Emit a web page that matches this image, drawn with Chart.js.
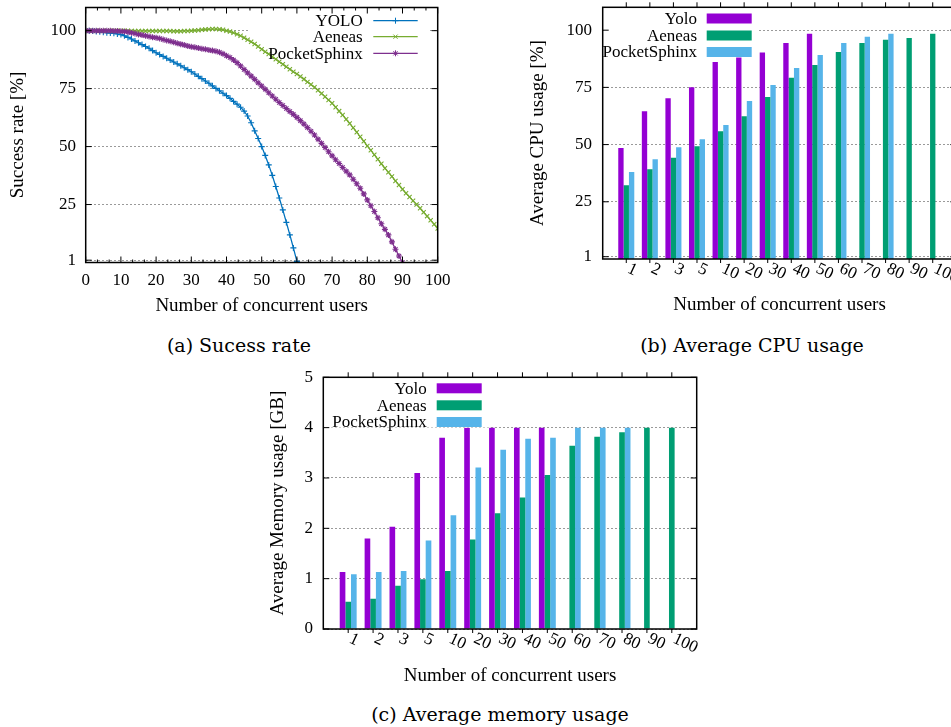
<!DOCTYPE html>
<html><head><meta charset="utf-8">
<script src="https://cdn.jsdelivr.net/npm/chart.js@4.4.1/dist/chart.umd.min.js"></script>
<style>
html,body{margin:0;padding:0;background:#fff;width:951px;height:727px;overflow:hidden;position:relative}
canvas{position:absolute}
.cap{position:absolute;font-family:"DejaVu Serif",serif;font-size:19px;line-height:24px;color:#000;white-space:nowrap;transform:translateX(-50%)}
</style></head><body>
<canvas id="ca" width="470" height="325" style="left:0;top:0"></canvas>
<canvas id="cb" width="480" height="325" style="left:480px;top:0"></canvas>
<canvas id="cc" width="480" height="330" style="left:240px;top:360px"></canvas>
<div class="cap" style="left:239px;top:333px">(a) Sucess rate</div>
<div class="cap" style="left:752px;top:333px">(b) Average CPU usage</div>
<div class="cap" style="left:500px;top:702px">(c) Average memory usage</div>
<script>
// ---------- data: (a) success rate, one value per number of concurrent users (0,1,2,...) ----------
const SUCCESS_YOLO = [100,100,99.9,99.7,99.5,99.3,99.1,99,98.9,98.6,98.3,97.8,97.1,96.4,95.6,94.8,94,93.2,92.4,91.4,
  90.5,89.7,88.9,88.1,87.3,86.5,85.7,84.9,84,83.2,82.3,81.3,80.3,79.3,78.3,77.3,76.2,75.1,74.1,73,
  72,70.8,69.5,68.3,67,65.3,63.2,60.3,56.8,53.5,50,46.2,42.1,37.6,32.8,27.8,22.7,17.3,11.9,6.3,0.5];
const SUCCESS_AENEAS = [100,100,100,100,100,100,100,100,100,100,100,100,100,99.9,99.9,99.9,99.9,99.9,99.9,99.9,
  99.9,99.9,99.9,99.9,99.9,99.8,99.8,99.8,99.9,99.9,100,100.1,100.2,100.4,100.5,100.6,100.7,100.7,100.6,100.4,
  100,99.6,99.1,98.5,97.8,97,96.1,95.2,94.3,93.2,92,90.9,89.9,88.8,87.7,86.6,85.5,84.4,83.4,82.3,
  81.3,80.2,79.1,77.9,76.8,75.6,74.3,72.9,71.5,70.1,68.7,67,65.3,63.6,61.8,60,58.1,56.2,54.2,52.3,
  50.3,48.4,46.5,44.5,42.6,40.7,38.9,37.1,35.2,33.4,31.6,29.9,28.3,26.6,25,23.4,21.7,20,18.2,16.5,14.7];
const SUCCESS_POCKET = [100,100,100,100,100,100,100,100,99.9,99.9,99.8,99.6,99.4,99.1,98.8,98.4,98.1,97.8,97.5,97.2,
  97,96.6,96.2,95.8,95.4,95,94.6,94.2,93.8,93.4,93.1,92.8,92.5,92.2,92,91.7,91.4,91.1,90.7,90,
  89.2,88.4,87.4,86.2,84.8,83.3,81.8,80.4,79,77.5,76.1,74.7,73.2,71.8,70.4,69,67.7,66.4,65.1,63.9,
  62.6,61.2,59.7,58.2,56.6,55,53.2,51.4,49.6,47.8,46,44.3,42.7,41,39.4,37.8,35.9,34,32,29.6,
  27,24.5,22,19.3,16.7,14.3,11.9,8.9,5.7,2.8,0];
const Y_TICKS_A = [1, 25, 50, 75, 100];

// ---------- data: (b) CPU usage and (c) memory usage ----------
const USER_LABELS = ['1','2','3','5','10','20','30','40','50','60','70','80','90','100'];
const CPU_YOLO   = [48.5,64.6,70.3,75.1,86.1,88.5,90.2,94.4,98.4,null,null,null,null,null];
const CPU_AENEAS = [32.2,39.2,44.3,49.3,55.8,62.4,70.8,79.2,84.8,90.5,94.4,95.8,96.6,98.4];
const CPU_POCKET = [38.0,43.6,48.8,52.3,58.6,69.0,76.0,83.5,89.2,94.4,97.1,98.4,null,null];
const Y_TICKS_B = [1, 25, 50, 75, 100];
const MEM_YOLO   = [1.13,1.80,2.03,3.10,3.80,4.0,4.0,4.0,4.0,null,null,null,null,null];
const MEM_AENEAS = [0.54,0.60,0.86,0.99,1.15,1.78,2.30,2.61,3.06,3.64,3.82,3.91,4.0,4.0];
const MEM_POCKET = [1.09,1.13,1.15,1.76,2.26,3.21,3.56,3.78,3.80,4.0,4.0,4.0,null,null];
const Y_TICKS_C = [0, 1, 2, 3, 4, 5];

const FONT = "'Liberation Serif', 'Times New Roman', serif";
Chart.defaults.font.family = FONT;
Chart.defaults.font.size = 17;
Chart.defaults.color = '#000';
const C_YOLO = '#9400d3', C_AEN = '#009e73', C_PS = '#56b4e9';

function drawLegend(chart, L, drawBox, drawContent) {
  const ctx = chart.ctx;
  ctx.save();
  if (drawBox) {
    ctx.fillStyle = '#fff';
    ctx.fillRect(L.box[0], L.box[1], L.box[2] - L.box[0], L.box[3] - L.box[1]);
  }
  if (drawContent) {
    ctx.font = '17px ' + FONT;
    ctx.textAlign = 'right';
    ctx.textBaseline = 'middle';
    chart.data.datasets.forEach((ds, i) => {
      const y = L.rows[i];
      ctx.fillStyle = '#000';
      ctx.fillText(ds.label, L.textRight, y + 1);
      if (L.kind === 'bar') {
        ctx.fillStyle = ds.backgroundColor;
        ctx.fillRect(L.sample[0], y - 5, L.sample[1] - L.sample[0], 10);
      } else {
        ctx.strokeStyle = ds.borderColor;
        ctx.fillStyle = ds.borderColor;
        ctx.lineWidth = 1.2;
        ctx.beginPath(); ctx.moveTo(L.sample[0], y); ctx.lineTo(L.sample[1], y); ctx.stroke();
        ctx.lineWidth = 1;
        Chart.helpers.drawPoint(ctx, {pointStyle: ds.pointStyle, radius: 3, borderWidth: 1, rotation: 0},
          (L.sample[0] + L.sample[1]) / 2, y);
      }
    });
  }
  ctx.restore();
}

const framePlugin = {
  id: 'frame',
  beforeDatasetsDraw(chart, args, o) {
    if (o.legend && o.legend.under) drawLegend(chart, o.legend, true, false);
  },
  afterDatasetsDraw(chart, args, o) {
    if (!o.legend) return;
    if (o.legend.under) drawLegend(chart, o.legend, false, true);
    else drawLegend(chart, o.legend, true, true);
  },
  afterDraw(chart, args, o) {
    const {ctx, chartArea: a, scales} = chart;
    const line = (x1, y1, x2, y2) => { ctx.beginPath(); ctx.moveTo(x1, y1); ctx.lineTo(x2, y2); ctx.stroke(); };
    ctx.save();
    ctx.strokeStyle = '#000';
    ctx.lineWidth = 1;
    scales.y.ticks.forEach(t => {
      const py = scales.y.getPixelForValue(t.value);
      line(a.left, py, a.left + 6, py);
      line(a.right, py, a.right - 6, py);
    });
    if (o.xMode === 'inner') {
      const tk = scales.x.ticks.map(t => t.value);
      for (let i = 0; i < tk.length; i++) {
        const px = scales.x.getPixelForValue(tk[i]);
        line(px, a.bottom, px, a.bottom - 6);
        line(px, a.top, px, a.top + 6);
        if (i < tk.length - 1) {
          for (let k = 1; k < o.minor; k++) {
            const p = scales.x.getPixelForValue(tk[i] + (tk[i + 1] - tk[i]) * k / o.minor);
            line(p, a.bottom, p, a.bottom - 3);
            line(p, a.top, p, a.top + 3);
          }
        }
      }
    } else {
      o.catLabels.forEach((lab, i) => {
        const px = scales.x.getPixelForValue(i + 1);
        line(px, a.top, px, a.top - 5);
        line(px, a.bottom, px, a.bottom + 4);
        ctx.save();
        ctx.translate(px + 2, a.bottom + 9);
        ctx.rotate(25 * Math.PI / 180);
        ctx.font = '17px ' + FONT;
        ctx.fillStyle = '#000';
        ctx.textAlign = 'left';
        ctx.textBaseline = 'middle';
        ctx.fillText(lab, 0, 0);
        ctx.restore();
      });
    }
    ctx.lineWidth = 1.5;
    ctx.strokeRect(a.left, a.top, a.right - a.left, a.bottom - a.top);
    ctx.restore();
  }
};

function noPad(s) { s.paddingTop = 0; s.paddingBottom = 0; s.paddingLeft = 0; s.paddingRight = 0; }
const tickFont = () => ({family: FONT, size: 17});
const titleFont = () => ({family: FONT, size: 19});

function yScale(min, max, ticks, title, width, titlePad, labelPad) {
  return {
    type: 'linear', min, max,
    afterBuildTicks: s => { s.ticks = ticks.map(v => ({value: v})); },
    ticks: {padding: labelPad, font: tickFont(), color: '#000'},
    grid: {color: '#9a9a9a', lineWidth: 1, drawTicks: false},
    border: {display: false, dash: [2, 2]},
    title: {display: true, text: title, font: titleFont(), color: '#000', padding: {top: titlePad, bottom: 0}},
    afterFit: s => { s.width = width; noPad(s); }
  };
}

// ---------- (a) ----------
const lineSet = (label, vals, color, style, order) => ({
  label, data: vals.map((v, i) => ({x: i, y: v})), borderColor: color, backgroundColor: color,
  pointStyle: style, pointBorderColor: color, pointBackgroundColor: color, order
});
new Chart(document.getElementById('ca'), {
  type: 'line',
  data: {datasets: [
    lineSet('YOLO', SUCCESS_YOLO, '#0072bd', 'cross', 2),
    lineSet('Aeneas', SUCCESS_AENEAS, '#77ac30', 'crossRot', 1),
    lineSet('PocketSphinx', SUCCESS_POCKET, '#7e2f8e', 'star', 0)
  ]},
  options: {
    responsive: false, animation: false, devicePixelRatio: 1,
    layout: {padding: {top: 7.5, right: 32.3, left: 0, bottom: 0}},
    elements: {line: {borderWidth: 1.3, tension: 0}, point: {radius: 3, borderWidth: 1.1}},
    plugins: {
      legend: {display: false}, tooltip: {enabled: false},
      frame: {xMode: 'inner', minor: 3,
        legend: {under: true, kind: 'line', box: [250, 8.5, 428, 61], textRight: 362.7,
                 sample: [373.3, 417.7], rows: [20.7, 36.7, 53.3]}}
    },
    scales: {
      x: {
        type: 'linear', min: 0, max: 100,
        ticks: {stepSize: 10, padding: 8.3, font: tickFont(), color: '#000', maxRotation: 0},
        grid: {display: false, drawTicks: false}, border: {display: false},
        title: {display: true, text: 'Number of concurrent users', font: titleFont(), color: '#000', padding: {top: 0, bottom: 7.6}},
        afterFit: s => { s.height = 62.5; noPad(s); }
      },
      y: yScale(0, 110, Y_TICKS_A, 'Success rate [%]', 85.7, 6.6, 9.7)
    }
  },
  plugins: [framePlugin]
});

// ---------- (b) and (c) ----------
const barSet = (label, vals, color) => ({
  label, data: vals.map((v, i) => ({x: i + 1, y: v})), backgroundColor: color, borderWidth: 0,
  categoryPercentage: 0.68, barPercentage: 1.0
});
function barChart(id, sets, yMax, yTicks, yTitle, geo) {
  new Chart(document.getElementById(id), {
    type: 'bar',
    data: {datasets: sets},
    options: {
      responsive: false, animation: false, devicePixelRatio: 1,
      layout: {padding: {top: geo.top, right: geo.right, left: 0, bottom: 0}},
      plugins: {
        legend: {display: false}, tooltip: {enabled: false},
        frame: {xMode: 'cat', catLabels: USER_LABELS, legend: geo.legend}
      },
      scales: {
        x: {
          type: 'linear', min: 0, max: USER_LABELS.length + 1, offset: false,
          ticks: {display: false, stepSize: 1},
          grid: {display: false, drawTicks: false}, border: {display: false},
          title: {display: true, text: 'Number of concurrent users', font: titleFont(), color: '#000', padding: {top: 0, bottom: geo.xTitlePad}},
          afterFit: s => { s.height = geo.xHeight; noPad(s); }
        },
        y: yScale(0, yMax, yTicks, yTitle, geo.yWidth, geo.yTitlePad, geo.yLabelPad)
      }
    },
    plugins: [framePlugin]
  });
}
barChart('cb', [
  barSet('Yolo', CPU_YOLO, C_YOLO), barSet('Aeneas', CPU_AENEAS, C_AEN), barSet('PocketSphinx', CPU_POCKET, C_PS)
], 110, Y_TICKS_B, 'Average CPU usage [%]', {
  top: 7.3, right: 3.7, xHeight: 66, yWidth: 122.7, xTitlePad: 8.6, yTitlePad: 46.6, yLabelPad: 10.7,
  legend: {under: false, kind: 'bar', box: [123.5, 8, 279, 57.5], textRight: 217, sample: [226.7, 271.7], rows: [18.5, 35.5, 52]}
});
barChart('cc', [
  barSet('Yolo', MEM_YOLO, C_YOLO), barSet('Aeneas', MEM_AENEAS, C_AEN), barSet('PocketSphinx', MEM_POCKET, C_PS)
], 5, Y_TICKS_C, 'Average Memory usage [GB]', {
  top: 17.3, right: 23.3, xHeight: 61, yWidth: 83.3, xTitlePad: 2.6, yTitlePad: 26.9, yLabelPad: 10.3,
  legend: {under: false, kind: 'bar', box: [84, 18, 250, 67.5], textRight: 186.7, sample: [196.7, 241.7], rows: [28.3, 45.3, 62]}
});
</script>
</body></html>
